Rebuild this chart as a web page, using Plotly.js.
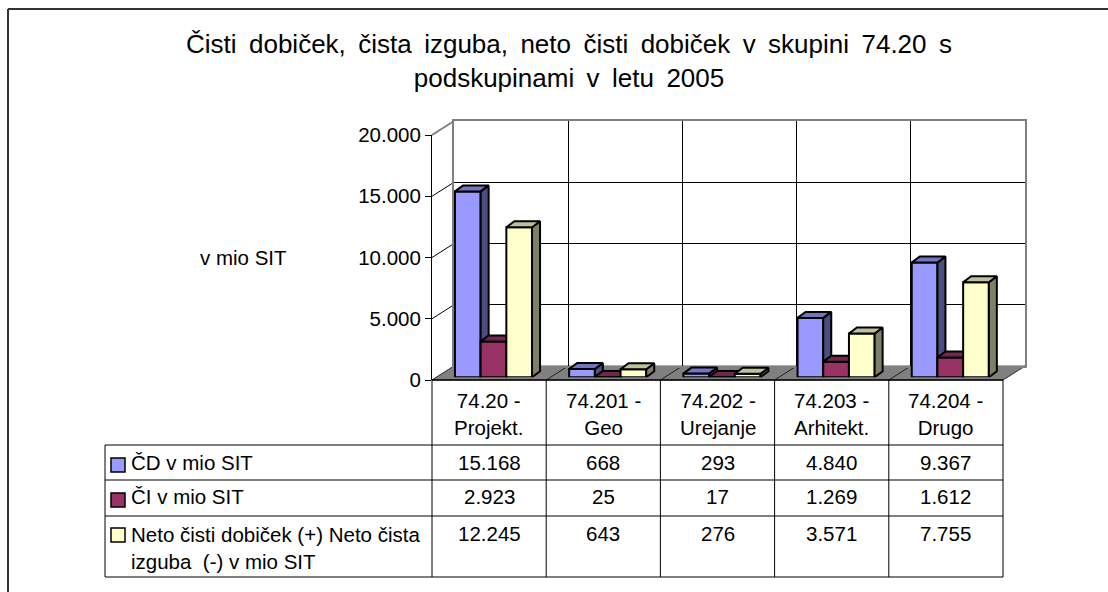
<!DOCTYPE html>
<html>
<head>
<meta charset="utf-8">
<script src="https://cdn.plot.ly/plotly-3.0.1.min.js"></script>
<style>html,body{margin:0;padding:0;background:#fff;}#chart{width:1108px;height:592px;}</style>
</head>
<body>
<div id="chart"></div>
<script>
// ---------- DATA ----------
const categoryCodes = ['74.20 -', '74.201 -', '74.202 -', '74.203 -', '74.204 -'];
const categoryNames = ['Projekt.', 'Geo', 'Urejanje', 'Arhitekt.', 'Drugo'];
const seriesNames = ['ČD v mio SIT', 'ČI v mio SIT', 'Neto čisti dobiček (+) Neto čista<br>izguba\u00a0 (-) v mio SIT'];
const cdValues = [15168, 668, 293, 4840, 9367];
const ciValues = [2923, 25, 17, 1269, 1612];
const netoValues = [12245, 643, 276, 3571, 7755];
const yTickVals = [0, 5000, 10000, 15000, 20000];
const yTickText = ['0', '5.000', '10.000', '15.000', '20.000'];
const titleLines = ['Čisti dobiček, čista izguba, neto čisti dobiček v skupini 74.20 s', 'podskupinami v letu 2005'];
const yLabel = 'v mio SIT';

// ---------- STYLE / GEOMETRY ----------
const W = 1108, H = 592;
const FONT = 'Liberation Sans, Arial, Helvetica, sans-serif';
const FS = 20.5;
const px = x => x / W;
const py = y => 1 - y / H;

const FX0 = 432, FX1 = 1003, FY0 = 380, FYT = 135;   // front plane
const DDX = 22, DDY = -14;                            // depth of whole box
const BX0 = FX0 + DDX, BX1 = FX1 + DDX, BY0 = FY0 + DDY, BYT = FYT + DDY;
const T = 0.2;                                        // bar plane depth fraction
const PX0 = FX0 + DDX * T, PX1 = FX1 + DDX * T, PY0 = FY0 + DDY * T;
const PY_TOP = 90;
const pxPerVal = (FY0 - FYT) / 20000;
const nCat = categoryCodes.length;
const catW = (FX1 - FX0) / nCat;
const barYMax = (PY0 - PY_TOP) / pxPerVal;

const faceDx = 8 / catW;         // category units
const faceDy = 6 / pxPerVal;     // value units
const barW = 0.225;
const offsets = [-1.5 * barW, -0.5 * barW, 0.5 * barW];

const frontColors = ['#9999FF', '#993366', '#FFFFCC'];
const topColors = ['#7373C0', '#73264D', '#BFBF99'];
const sideColors = ['#4D4D80', '#4D1A33', '#808066'];

const series = [cdValues, ciValues, netoValues];
const fmt = n => String(n).replace(/\B(?=(\d{3})+(?!\d))/g, '.');
// Excel-like wide word spacing in the title
const titleText = titleLines.map(l => l.split(' ').join(' \u2009')).join('<br>');

// ---------- TRACES ----------
const traces = [];
traces.push({type: 'scatter', x: [null], y: [null], xaxis: 'x', yaxis: 'y', showlegend: false, hoverinfo: 'skip'});
traces.push({type: 'scatter', x: [null], y: [null], xaxis: 'x2', yaxis: 'y2', showlegend: false, hoverinfo: 'skip'});

const xs = categoryCodes.map((_, i) => i);
series.forEach((vals, s) => {
  const xa = 'x' + (3 + s), ya = 'y' + (3 + s);
  traces.push({
    type: 'bar', x: xs, y: vals, width: barW, offset: offsets[s],
    xaxis: xa, yaxis: ya, name: seriesNames[s], showlegend: false,
    marker: {color: frontColors[s], line: {color: '#000', width: 2}},
    cliponaxis: false, hoverinfo: 'y'
  });
  const sx = [], sy = [], tx = [], ty = [];
  vals.forEach((v, i) => {
    const xl = i + offsets[s], xr = xl + barW;
    sx.push(xr, xr + faceDx, xr + faceDx, xr, xr, null);
    sy.push(0, faceDy, v + faceDy, v, 0, null);
    tx.push(xl, xl + faceDx, xr + faceDx, xr, xl, null);
    ty.push(v, v + faceDy, v + faceDy, v, v, null);
  });
  traces.push({type: 'scatter', mode: 'lines', x: sx, y: sy, fill: 'toself', fillcolor: sideColors[s],
    line: {color: '#000', width: 2}, xaxis: xa, yaxis: ya, showlegend: false, hoverinfo: 'skip', cliponaxis: false});
  traces.push({type: 'scatter', mode: 'lines', x: tx, y: ty, fill: 'toself', fillcolor: topColors[s],
    line: {color: '#000', width: 2}, xaxis: xa, yaxis: ya, showlegend: false, hoverinfo: 'skip', cliponaxis: false});
});

// ---------- SHAPES ----------
const shapes = [];
const line = (x0, y0, x1, y1, color, width, layer) => shapes.push({
  type: 'line', xref: 'paper', yref: 'paper', x0: px(x0), y0: py(y0), x1: px(x1), y1: py(y1),
  line: {color: color, width: width}, layer: layer || 'above'
});
// floor
shapes.push({type: 'path', xref: 'paper', yref: 'paper', layer: 'below',
  path: `M ${px(FX0)} ${py(FY0)} L ${px(FX1)} ${py(FY0)} L ${px(BX1)} ${py(BY0)} L ${px(BX0)} ${py(BY0)} Z`,
  fillcolor: '#808080', line: {color: '#606060', width: 1}});
// floor category dividers
for (let i = 1; i < nCat; i++) {
  line(FX0 + catW * i, FY0, BX0 + catW * i, BY0, '#202020', 1, 'below');
}
line(FX1, FY0, BX1, BY0, '#404040', 1, 'below');
// side wall diagonals
yTickVals.forEach(v => {
  if (v === 0) return;
  const yf = FY0 - v * pxPerVal, yb = BY0 - v * pxPerVal;
  line(FX0, yf, BX0, yb, v === 20000 ? '#808080' : '#000', v === 20000 ? 2 : 1, 'below');
});
line(FX0, FY0, BX0, BY0, '#404040', 1, 'below');

// table lines
const rowLines = [445, 480, 516, 577];
line(FX0, FY0, FX1, FY0, '#000', 1.5);
rowLines.forEach(y => line(105, y, FX1, y, '#000', 1));
line(105, 445, 105, 577, '#000', 1);
for (let i = 0; i <= nCat; i++) line(FX0 + catW * i, FY0, FX0 + catW * i, 577, '#000', 1);

// legend keys
const rowCenters = [462, 497, 533];
const keyCenters = [465, 500, 535];
keyCenters.forEach((c, s) => shapes.push({type: 'rect', xref: 'paper', yref: 'paper',
  x0: px(111), x1: px(125), y0: py(c - 7), y1: py(c + 7),
  fillcolor: frontColors[s], line: {color: '#000', width: 1.5}}));

// outer border
line(8, 9, 1115, 9, '#333', 2);
line(8, 9, 8, 600, '#333', 2);

// ---------- ANNOTATIONS ----------
const annotations = [];
const txt = (x, y, text, xanchor, yanchor) => annotations.push({
  xref: 'paper', yref: 'paper', x: px(x), y: py(y), text: text, showarrow: false,
  xanchor: xanchor || 'center', yanchor: yanchor || 'middle', align: xanchor === 'left' ? 'left' : 'center',
  font: {family: FONT, size: FS, color: '#000'}
});
txt(198, 258, yLabel, 'left');
categoryCodes.forEach((c, i) => txt(FX0 + catW * (i + 0.5), 413.5, c + '<br>' + categoryNames[i]));
series.forEach((vals, s) => {
  vals.forEach((v, i) => txt(FX0 + catW * (i + 0.5), rowCenters[s], fmt(v)));
});
txt(129, rowCenters[0], seriesNames[0], 'left');
txt(129, rowCenters[1], seriesNames[1], 'left');
txt(129, 548, seriesNames[2], 'left');

// ---------- LAYOUT ----------
const hidden = {visible: false, fixedrange: true};
const layout = {
  width: W, height: H, autosize: false,
  margin: {l: 0, r: 0, t: 0, b: 0, pad: 0},
  paper_bgcolor: '#fff', plot_bgcolor: 'rgba(0,0,0,0)',
  showlegend: false,
  font: {family: FONT, size: FS, color: '#000'},
  title: {text: titleText, font: {family: FONT, size: 26, color: '#000'},
    xref: 'paper', x: 569 / W, xanchor: 'center', yref: 'container', y: 1 - 53 / H, yanchor: 'middle'},
  xaxis: {domain: [px(FX0), px(FX1)], range: [-0.5, nCat - 0.5], anchor: 'y',
    showgrid: false, zeroline: false, showline: false, showticklabels: false, ticks: '', fixedrange: true},
  yaxis: {domain: [py(FY0), py(FYT)], range: [0, 20000], anchor: 'x',
    tickvals: yTickVals, ticktext: yTickText, ticks: 'outside', ticklen: 6, tickwidth: 1, tickcolor: '#000',
    showline: true, linecolor: '#000', linewidth: 1, showgrid: false, zeroline: false,
    tickfont: {family: FONT, size: FS, color: '#000'}, fixedrange: true},
  xaxis2: {domain: [px(BX0), px(BX1)], range: [-0.5, nCat - 0.5], anchor: 'y2',
    tickvals: [0.5, 1.5, 2.5, 3.5], showgrid: true, gridcolor: '#000', gridwidth: 1,
    showticklabels: false, ticks: '', zeroline: false,
    showline: true, mirror: true, linecolor: '#808080', linewidth: 2, fixedrange: true},
  yaxis2: {domain: [py(BY0), py(BYT)], range: [0, 20000], anchor: 'x2',
    tickvals: yTickVals, showgrid: true, gridcolor: '#000', gridwidth: 1,
    showticklabels: false, ticks: '', zeroline: false,
    showline: true, mirror: true, linecolor: '#808080', linewidth: 2, fixedrange: true},
  shapes: shapes,
  annotations: annotations
};
for (let s = 0; s < 3; s++) {
  layout['xaxis' + (3 + s)] = Object.assign({domain: [px(PX0), px(PX1)], range: [-0.5, nCat - 0.5], anchor: 'y' + (3 + s)}, hidden);
  layout['yaxis' + (3 + s)] = Object.assign({domain: [py(PY0), py(PY_TOP)], range: [0, barYMax], anchor: 'x' + (3 + s)}, hidden);
}

Plotly.newPlot('chart', traces, layout, {displayModeBar: false, staticPlot: true});
</script>
</body>
</html>
